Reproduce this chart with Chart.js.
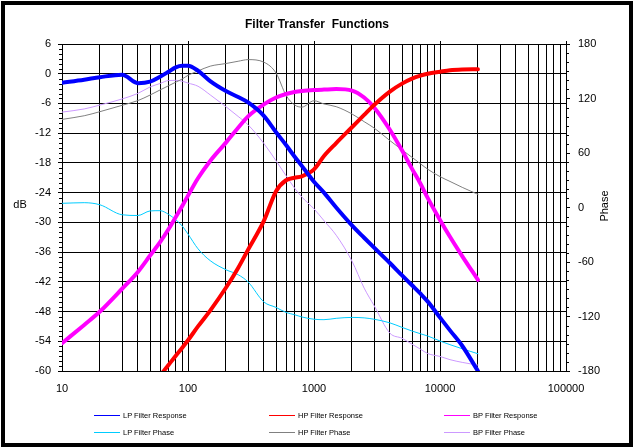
<!DOCTYPE html>
<html lang="en">
<head>
    <meta charset="UTF-8">
    <title>Filter Transfer Functions</title>
    <style>
        * { margin: 0; padding: 0; box-sizing: border-box; }
        body { background: #fff; font-family: 'Liberation Sans', Arial, sans-serif; }
        .wrap { position: relative; width: 634px; height: 448px; overflow: hidden; }
        .frame { position: absolute; left: 1px; top: 1px; width: 632px; height: 446px; border: 4px solid #000; pointer-events: none; }
        canvas { position: absolute; left: 0; top: 0; }
        .legend-item { position: absolute; height: 10px; display: flex; align-items: center; font-size: 7.5px; color: #000; white-space: nowrap; }
        .legend-item span.swatch { display: inline-block; width: 26px; height: 1px; margin-right: 3px; }
    </style>
    <script src="https://cdn.jsdelivr.net/npm/chart.js"></script>
</head>
<body>
    <div class="wrap">
        <canvas id="filterChart" width="634" height="448"></canvas>
        <div id="legend"></div>
        <div class="frame"></div>
    </div>
    <script>
        // frequency points (Hz)
        const freqs = [10, 15, 20, 30, 40, 50, 60, 70, 80, 90, 100, 120, 150, 200, 250, 300, 400, 500, 600, 700,
            800, 1000, 1200, 1500, 2000, 2500, 3000, 4000, 5000, 6000, 7000, 8000, 10000, 12000, 15000, 20000];

        // responses in dB
        const lpResponse = [-1.8, -1.2, -0.7, -0.2, -1.9, -1.6, -0.6, 0.4, 1.3, 1.6, 1.6, 0.6, -1.5, -3.5, -4.7, -5.8, -8.5, -11.8, -14.4, -16.7,
            -18.6, -21.8, -24.0, -27.0, -30.6, -33.1, -35.1, -38.2, -40.7, -42.7, -44.4, -46.0, -49.2, -51.8, -54.9, -60.0];
        const hpResponse = [null, null, null, null, null, -64.0, -61.0, -58.8, -56.9, -55.3, -53.8, -51.0, -47.8, -43.2, -39.2, -35.5, -29.7, -23.7, -21.5, -21.0,
            -20.7, -19.3, -16.6, -14.0, -10.8, -8.3, -6.3, -3.6, -2.0, -1.0, -0.4, 0.0, 0.4, 0.7, 0.85, 0.9];
        const bpResponse = [-54.4, -50.7, -48.0, -43.4, -40.0, -36.7, -34.0, -31.4, -28.9, -26.7, -24.6, -21.1, -17.6, -13.9, -10.9, -8.6, -6.2, -4.8, -4.1, -3.7,
            -3.5, -3.3, -3.2, -3.1, -3.4, -4.8, -6.8, -11.3, -15.5, -19.2, -22.2, -25.1, -29.5, -32.9, -36.8, -41.6];

        // phases in degrees
        const lpPhase = [4.6, 5.3, 3.0, -8.0, -8.8, -3.8, -3.5, -7.5, -13.5, -20.4, -29.2, -45.4, -58.5, -68.5, -74.0, -82.0, -104.0, -110.0, -115.5, -118.0,
            -120.5, -123.0, -123.5, -122.0, -121.0, -121.5, -123.0, -127.0, -132.0, -136.0, -139.0, -141.5, -147.0, -151.0, -155.5, -161.0];
        const hpPhase = [97.0, 101.0, 105.5, 112.5, 117.7, 123.8, 129.4, 134.0, 138.0, 141.5, 145.5, 150.3, 155.6, 158.5, 161.0, 162.8, 160.0, 148.0, 123.5, 113.0,
            110.5, 117.5, 114.0, 111.0, 103.0, 94.5, 87.5, 73.7, 63.4, 55.2, 48.1, 42.1, 34.0, 28.7, 22.2, 14.5];
        const bpPhase = [105.0, 108.5, 112.8, 119.5, 125.6, 132.7, 136.5, 139.8, 140.0, 139.0, 137.0, 133.5, 124.0, 111.0, 100.3, 91.0, 70.5, 51.4, 35.0, 21.5,
            11.6, -1.5, -14.5, -30.5, -58.9, -88.7, -108.0, -138.3, -144.0, -150.5, -156.0, -160.8, -164.0, -167.5, -170.5, -173.5];

        const seriesNames = ['LP Filter Response', 'HP Filter Response', 'BP Filter Response',
            'LP Filter Phase', 'HP Filter Phase', 'BP Filter Phase'];
        const decadeLabels = [10, 100, 1000, 10000, 100000];

        function points(values) {
            return freqs.map((f, i) => ({ x: f, y: values[i] }));
        }

        Chart.defaults.font.family = "'Liberation Sans', Arial, sans-serif";
        Chart.defaults.font.size = 11;
        Chart.defaults.color = '#000';

        // minor ticks, decade tick stubs and the two axis titles
        const axisExtras = {
            id: 'axisExtras',
            afterDraw(chart) {
                const ctx = chart.ctx;
                const x = chart.scales.x, y = chart.scales.y, y2 = chart.scales.y2;
                ctx.save();
                ctx.strokeStyle = '#000';
                ctx.lineWidth = 1;
                ctx.beginPath();
                for (let v = -60; v <= 6; v++) {
                    if (v % 6 === 0) continue;
                    const py = Math.round(y.getPixelForValue(v)) + 0.5;
                    ctx.moveTo(y.right - 3, py);
                    ctx.lineTo(y.right, py);
                }
                for (let v = -180; v <= 180; v += 10) {
                    if (v % 60 === 0) continue;
                    const py = Math.round(y2.getPixelForValue(v)) + 0.5;
                    ctx.moveTo(y2.left, py);
                    ctx.lineTo(y2.left + 3, py);
                }
                decadeLabels.slice(1).forEach(v => {
                    const px = Math.round(x.getPixelForValue(v)) + 0.5;
                    ctx.moveTo(px, chart.chartArea.top - 3);
                    ctx.lineTo(px, chart.chartArea.top);
                });
                ctx.stroke();

                ctx.fillStyle = '#000';
                ctx.font = "11px 'Liberation Sans', Arial, sans-serif";
                ctx.textAlign = 'center';
                ctx.textBaseline = 'middle';
                ctx.fillText('dB', 20, 205);
                ctx.translate(605, 206);
                ctx.rotate(-Math.PI / 2);
                ctx.fillText('Phase', 0, 0);
                ctx.restore();
            }
        };

        const thick = 4, thin = 1;
        const chart = new Chart(document.getElementById('filterChart'), {
            type: 'line',
            data: {
                datasets: [
                    { label: seriesNames[0], data: points(lpResponse), borderColor: '#0000FF', borderWidth: thick, yAxisID: 'y' },
                    { label: seriesNames[1], data: points(hpResponse), borderColor: '#FF0000', borderWidth: thick, yAxisID: 'y' },
                    { label: seriesNames[2], data: points(bpResponse), borderColor: '#FF00FF', borderWidth: thick, yAxisID: 'y' },
                    { label: seriesNames[3], data: points(lpPhase), borderColor: '#00CCFF', borderWidth: thin, yAxisID: 'y2' },
                    { label: seriesNames[4], data: points(hpPhase), borderColor: '#808080', borderWidth: thin, yAxisID: 'y2' },
                    { label: seriesNames[5], data: points(bpPhase), borderColor: '#CC99FF', borderWidth: thin, yAxisID: 'y2' }
                ]
            },
            options: {
                responsive: false,
                animation: false,
                events: [],
                elements: {
                    point: { radius: 0 },
                    line: { fill: false, cubicInterpolationMode: 'monotone', borderCapStyle: 'round', borderJoinStyle: 'round' }
                },
                datasets: { line: { clip: 0 } },
                layout: { padding: 0 },
                plugins: {
                    legend: { display: false },
                    tooltip: { enabled: false },
                    title: {
                        display: true,
                        text: 'Filter Transfer  Functions',
                        font: { size: 12, weight: 'bold' },
                        color: '#000',
                        padding: { top: 17, bottom: 12.6 }
                    }
                },
                scales: {
                    x: {
                        type: 'logarithmic',
                        min: 10,
                        max: 100000,
                        afterFit(s) { s.height = 77; },
                        afterBuildTicks(s) {
                            const t = [];
                            for (let d = 10; d < 100000; d *= 10) {
                                for (let m = 1; m < 10; m++) t.push({ value: d * m });
                            }
                            t.push({ value: 100000 });
                            s.ticks = t;
                        },
                        grid: { color: '#000', lineWidth: 1, drawTicks: false },
                        border: { color: '#000' },
                        ticks: {
                            autoSkip: false,
                            maxRotation: 0,
                            padding: 11,
                            callback: v => decadeLabels.includes(v) ? String(v) : ''
                        }
                    },
                    y: {
                        position: 'left',
                        min: -60,
                        max: 6,
                        afterFit(s) { s.width = 62; },
                        grid: { color: '#000', lineWidth: 1, tickLength: 4, tickColor: '#000' },
                        border: { color: '#000' },
                        ticks: { stepSize: 6, padding: 7 }
                    },
                    y2: {
                        position: 'right',
                        min: -180,
                        max: 180,
                        afterFit(s) { s.width = 68; },
                        grid: { drawOnChartArea: false, tickLength: 4, tickColor: '#000' },
                        border: { color: '#000' },
                        ticks: { stepSize: 60, padding: 8 }
                    }
                }
            },
            plugins: [axisExtras]
        });

        // legend: two rows of three, drawn from the datasets
        const legendCols = [94, 269, 444];
        const legendRows = [410, 427];
        const legend = document.getElementById('legend');
        chart.data.datasets.forEach((ds, i) => {
            const item = document.createElement('div');
            item.className = 'legend-item';
            item.style.left = legendCols[i % 3] + 'px';
            item.style.top = legendRows[Math.floor(i / 3)] + 'px';
            item.innerHTML = `<span class="swatch" style="background:${ds.borderColor}"></span>${ds.label}`;
            legend.appendChild(item);
        });
    </script>
</body>
</html>
